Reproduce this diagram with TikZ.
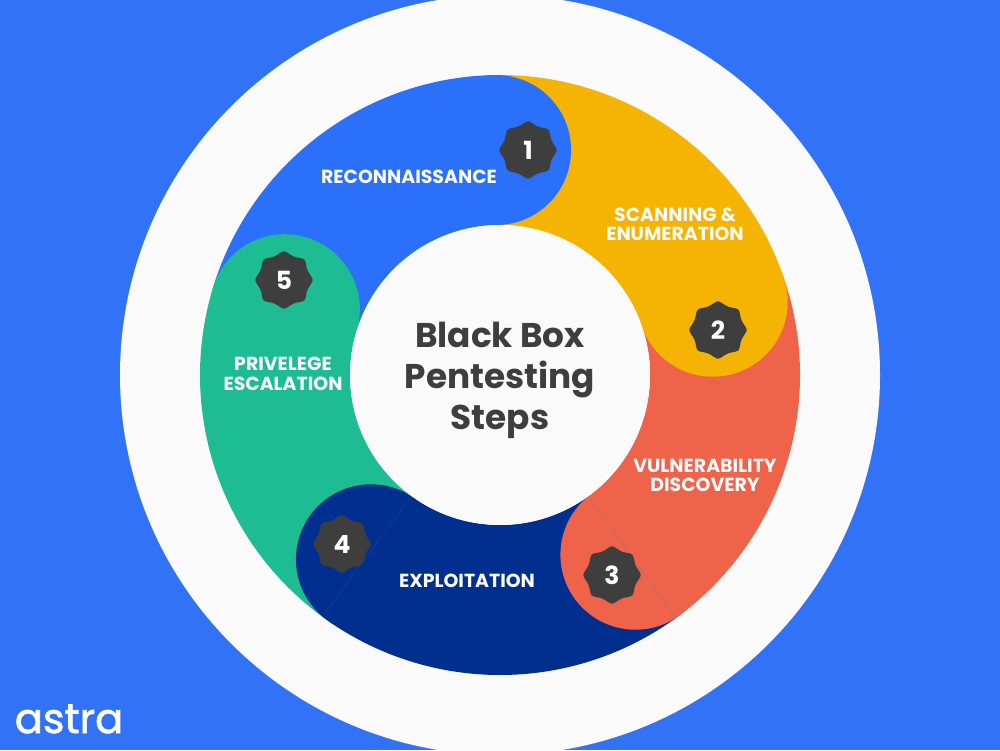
\documentclass[tikz,border=0pt]{standalone}
\usepackage{fontspec}
\setmainfont{Poppins}
\newfontfamily\logofont{Poppins}[FakeBold=1.6]
\usetikzlibrary{shapes.geometric}
\definecolor{bgblue}{HTML}{3172F6}
\definecolor{ringwhite}{HTML}{FAFAFA}
\definecolor{segblue}{HTML}{2A70FB}
\definecolor{segyellow}{HTML}{F5B404}
\definecolor{segred}{HTML}{EE634A}
\definecolor{segnavy}{HTML}{002F8F}
\definecolor{seggreen}{HTML}{1DBC92}
\definecolor{darkbadge}{HTML}{3E3E3E}
\definecolor{seamred}{HTML}{B9705F}
\definecolor{seamnavy}{HTML}{14408F}
\newcommand{\sectorfill}[3]{%
  \fill[#1,shift={(500pt,375pt)}] (#2:150pt) arc[start angle=#2,end angle=#3,radius=150pt]
    -- (#3:300pt) arc[start angle=#3,end angle=#2,radius=300pt] -- cycle;}
\newcommand{\capfill}[2]{%
  \fill[#1,shift={(500pt,375pt)}] (#2:225pt) circle[radius=75pt];}
\tikzset{
  x=1pt,y=1pt,
  badge/.style={star,star points=8,star point ratio=1.17,minimum size=59pt,inner sep=0pt,
    fill=darkbadge,rounded corners=2.5pt,text=white,font=\bfseries\fontsize{25}{25}\selectfont},
  seglabel/.style={text=ringwhite,align=center,inner sep=0pt,
    font=\bfseries\fontsize{18.9}{19}\selectfont},
  titlelabel/.style={text=darkbadge,align=center,inner sep=0pt,
    font=\bfseries\fontsize{34.3}{41}\selectfont},
}
\begin{document}
\begin{tikzpicture}
\useasboundingbox (0,0) rectangle (1000,750);
\clip (0,0) rectangle (1000,750);
\fill[bgblue] (0,0) rectangle (1000,750);
\fill[ringwhite] (500,375) circle[radius=380pt];
% band segments, wedge first, then the rounded heads that overlap the next one
\sectorfill{segblue}{91}{163}
\sectorfill{segyellow}{19}{91}
\sectorfill{segred}{-53}{19}
\sectorfill{segnavy}{235}{307}
\sectorfill{seggreen}{163}{235}
\capfill{segblue}{91}
\capfill{segyellow}{19}
\capfill{segred}{307}
\capfill{segnavy}{235}
\capfill{seggreen}{163}
% faint seams
\coordinate (s3a) at (590,252);
\coordinate (s3b) at (675,133);
\coordinate (s4a) at (410,252);
\coordinate (s4b) at (325,137);
\draw[line width=0.7pt,color=seamred] (s3a) -- (s3b);
\draw[line width=0.6pt,color=seamnavy] (s4a) -- (s4b);
\node[circle,fill=ringwhite,minimum size=300pt,inner sep=0pt] (hub) at (500,375) {};
\node[titlelabel] (title) at (500,370) {Black Box\\Pentesting\\Steps};
\node[seglabel] (l1) at (409,573) {RECONNAISSANCE};
\node[seglabel] (l2) at (675,526) {SCANNING \&\\ENUMERATION};
\node[seglabel] (l3) at (705,275) {VULNERABILITY\\DISCOVERY};
\node[seglabel] (l4) at (467,169) {EXPLOITATION};
\node[seglabel] (l5) at (283,376) {PRIVELEGE\\[1.5pt]ESCALATION};
\node[badge] (b1) at (528,600) {1};
\node[badge] (b2) at (718,420) {2};
\node[badge] (b3) at (612,175) {3};
\node[badge] (b4) at (342,206) {4};
\node[badge] (b5) at (284,470) {5};
\node[text=white,inner sep=0pt,font=\logofont\fontsize{41.5}{41.5}\selectfont] (logo) at (69,31) {astra};
\end{tikzpicture}
\end{document}
